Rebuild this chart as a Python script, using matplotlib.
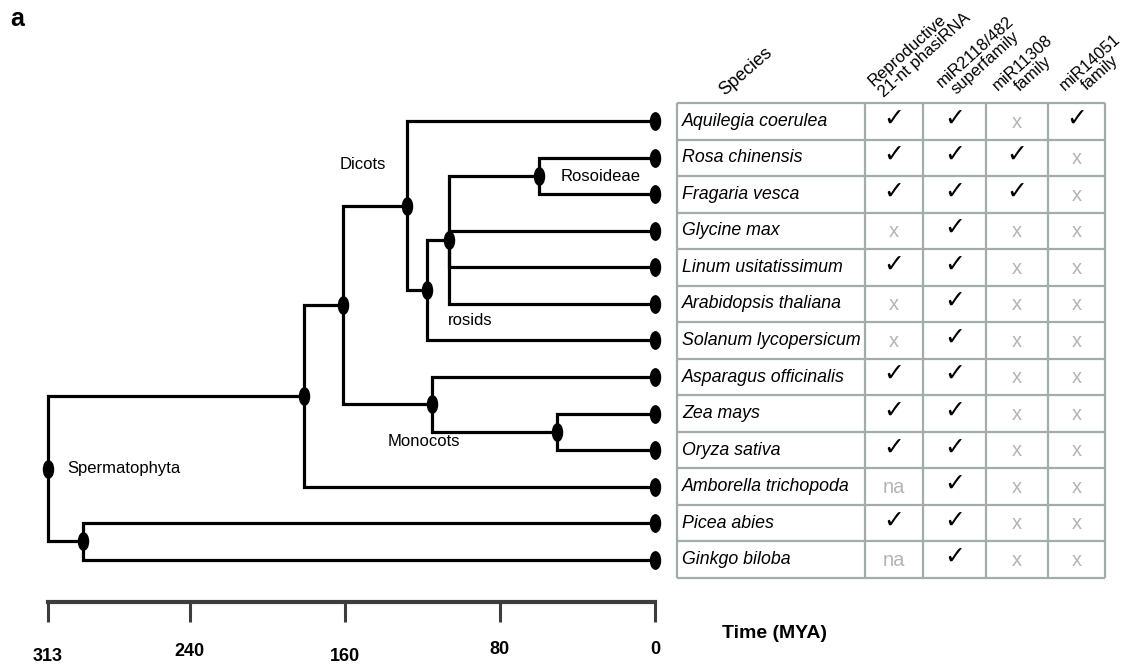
import matplotlib
matplotlib.use("Agg")
import matplotlib.pyplot as plt
import matplotlib.transforms as mtransforms
import numpy as np
from matplotlib.path import Path

plt.rcParams["font.family"] = ["Liberation Sans", "DejaVu Sans"]

# tips, top to bottom
species = [
    "Aquilegia coerulea", "Rosa chinensis", "Fragaria vesca", "Glycine max",
    "Linum usitatissimum", "Arabidopsis thaliana", "Solanum lycopersicum",
    "Asparagus officinalis", "Zea mays", "Oryza sativa",
    "Amborella trichopoda", "Picea abies", "Ginkgo biloba",
]

# internal nodes: name, children (tip index or node name), age in MYA
node_names = ["Rosoideae", "rosids", "core", "Dicots", "ZeaOryza",
              "Monocots", "Meso", "Angio", "Gymno", "Spermatophyta"]
node_children = [[1, 2], ["Rosoideae", 3, 4, 5], ["rosids", 6], [0, "core"],
                 [8, 9], [7, "ZeaOryza"], ["Dicots", "Monocots"],
                 ["Meso", 10], [11, 12], ["Angio", "Gymno"]]
node_ages = [60, 106, 117.5, 128, 50.5, 115, 161, 181, 295, 313]

time_ticks = [313, 240, 160, 80, 0]

col_headers = ["Reproductive\n21-nt phasiRNA", "miR2118/482\nsuperfamily",
               "miR11308\nfamily", "miR14051\nfamily"]
phasi = ["y", "y", "y", "x", "y", "x", "x", "y", "y", "y", "na", "y", "na"]
mir2118 = ["y"] * 13
mir11308 = ["x", "y", "y", "x", "x", "x", "x", "x", "x", "x", "x", "x", "x"]
mir14051 = ["y", "x", "x", "x", "x", "x", "x", "x", "x", "x", "x", "x", "x"]
table_cols = [phasi, mir2118, mir11308, mir14051]

W, H = 1132, 669
PT = 0.72  # points per pixel at 100 dpi


def rect(x0, y0, x1, y1):
    return [x0 / W, 1 - y1 / H, (x1 - x0) / W, (y1 - y0) / H]


fig = plt.figure(figsize=(W / 100, H / 100), dpi=100)

# ---- tree ----
ax = fig.add_axes(rect(48, 103, 655, 578))
ax.set_xlim(313, 0)
ax.set_ylim(len(species) - 0.5, -0.5)
ax.axis("off")

circ = Path.unit_circle()
oval = Path(circ.vertices * [0.58, 1.0], circ.codes)

pos = {i: (0.0, float(i)) for i in range(len(species))}
for name, kids, age in zip(node_names, node_children, node_ages):
    ys = [pos[k][1] for k in kids]
    y = (min(ys) + max(ys)) / 2
    for k in kids:
        kx, ky = pos[k]
        ax.plot([age, age, kx], [y, ky, ky], color="black", lw=2.3,
                solid_joinstyle="miter", solid_capstyle="butt", clip_on=False)
    pos[name] = (age, y)

node_x = [pos[n][0] for n in node_names]
node_y = [pos[n][1] for n in node_names]
ax.plot(node_x, node_y, ls="none", marker=oval, ms=12.5, color="black",
        clip_on=False, zorder=3)
ax.plot(np.zeros(len(species)), np.arange(len(species)), ls="none",
        marker=oval, ms=12.5, color="black", clip_on=False, zorder=3)

labels = {"Dicots": (-32, 30, "center"), "Rosoideae": (16, 0, "left"),
          "rosids": (-1, -58, "left"), "Monocots": (-6, -27, "center"),
          "Spermatophyta": (14, 0, "left")}
for name, (dx, dy, ha) in labels.items():
    ax.annotate(name, pos[name], xytext=(dx, dy), textcoords="offset points",
                ha=ha, va="center", fontsize=12)

# ---- time scale ----
tax = fig.add_axes(rect(48, 592, 655, 602))
tax.set_xlim(313, 0)
tax.set_yticks([])
for s in ["top", "left", "right"]:
    tax.spines[s].set_visible(False)
tax.spines["bottom"].set_linewidth(3)
tax.spines["bottom"].set_color("#3c3c3c")
tax.patch.set_visible(False)
tax.set_xticks(time_ticks)
tax.set_xticklabels([str(t) for t in time_ticks], fontweight="bold", fontsize=13)
tax.tick_params(axis="x", direction="out", length=14.5, width=2.2,
                color="#3c3c3c", pad=16)
# labels in the original sit at slightly different heights
for lbl, dy in zip(tax.get_xticklabels(), [-4, 1, -4, 3, 3]):
    lbl.set_transform(lbl.get_transform() + mtransforms.ScaledTranslation(
        0, dy / 100, fig.dpi_scale_trans))
fig.text(774 / W, 1 - 633 / H, "Time (MYA)", fontsize=14, fontweight="bold",
         ha="center", va="center")

fig.text(10 / W, 1 - 19 / H, "a", fontsize=18, fontweight="bold",
         ha="left", va="center")

# ---- table ----
edges = [0, 188, 246, 309, 371, 428]
tb = fig.add_axes(rect(677, 103, 1105, 578))
tb.set_xlim(0, 428)
tb.set_ylim(len(species) - 0.5, -0.5)
tb.axis("off")
grid = "#a2acaa"
tb.hlines(np.arange(len(species) + 1) - 0.5, 0, 428, color=grid, lw=1.6,
          clip_on=False)
tb.vlines(edges, -0.5, len(species) - 0.5, color=grid, lw=1.6, clip_on=False)

for i, sp in enumerate(species):
    tb.text(5, i, sp, style="italic", fontsize=12.8, ha="left", va="center")

for c, vals in enumerate(table_cols):
    cx = (edges[c + 1] + edges[c + 2]) / 2
    for i, v in enumerate(vals):
        if v == "y":
            tb.text(cx, i - 0.08, "\u2713", fontsize=18, fontweight="bold",
                    family=["DejaVu Sans"], ha="center", va="center")
        else:
            tb.text(cx, i + 0.02, v, fontsize=14.5, color="#b4b4b4",
                    ha="center", va="center")

tb.annotate("Species", (0, -0.5), xytext=(50 * PT, 4 * PT),
            textcoords="offset points", rotation=41, rotation_mode="anchor",
            ha="left", va="bottom", fontsize=13, annotation_clip=False)
head_offsets = [(21, 3), (31, 2), (24, -1), (29, -1)]
head_align = ["left", "center", "center", "center"]
for c, head in enumerate(col_headers):
    dx, dy = head_offsets[c]
    tb.annotate(head, (edges[c + 1], -0.5), xytext=(dx * PT, dy * PT),
                textcoords="offset points", rotation=42,
                rotation_mode="anchor", ha="left", va="bottom",
                multialignment=head_align[c], fontsize=12,
                linespacing=1.0, annotation_clip=False)

fig.savefig("out.png", dpi=100)
